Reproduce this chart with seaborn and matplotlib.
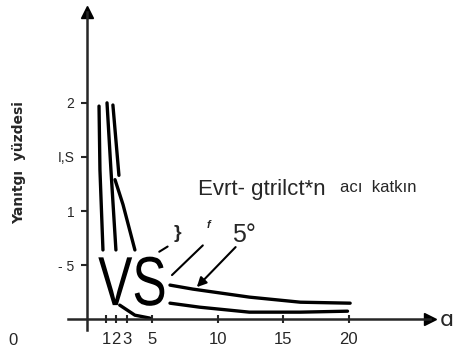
import matplotlib
matplotlib.use('Agg')
import matplotlib.pyplot as plt
import matplotlib.patheffects as pe
from matplotlib.transforms import Affine2D
import seaborn as sns

# steil inen dallar (sol taraf)
c1_x = [0.92, 0.99, 1.22]
c1_y = [1.97, 1.38, 0.64]
c2_x = [1.53, 1.83, 2.21]
c2_y = [2.00, 1.38, 0.64]
c3a_x = [1.98, 2.44]
c3a_y = [1.98, 1.33]
c3b_x = [2.14, 2.75, 3.66]
c3b_y = [1.29, 1.06, 0.64]
foot_x = [2.5, 3.66, 4.80]
foot_y = [0.13, 0.037, 0.01]

# kuyruklar (sag taraf)
upper_x = [6.34, 8.09, 12.4, 16.3, 20.1]
upper_y = [0.315, 0.278, 0.204, 0.157, 0.148]
lower_x = [6.34, 8.6, 12.4, 16.3, 19.9]
lower_y = [0.148, 0.111, 0.065, 0.065, 0.074]

x_ticks = [1.45, 2.2, 3.05, 5, 10, 15, 20]
x_labels = ['1', '2', '3', '5', '10', '15', '20']
y_ticks = [0.5, 1, 1.5, 2]
y_labels = ['- 5', '1', 'I,S', '2']


class Squeeze(pe.AbstractPathEffect):
    # yazıyı yatayda daralt (dar font yok)
    def __init__(self, sx):
        super().__init__()
        self.sx = sx

    def draw_path(self, renderer, gc, tpath, affine, rgbFace=None):
        renderer.draw_path(gc, tpath, Affine2D().scale(self.sx, 1) + affine, rgbFace)


sns.set_style('ticks')
plt.rcParams['font.family'] = ['Liberation Sans', 'DejaVu Sans']

fig = plt.figure(figsize=(4.57, 3.5), dpi=100)
ax = fig.add_axes([68 / 457, 1 - 330 / 350, 362 / 457, 318 / 350])

for xs, ys in [(c1_x, c1_y), (c2_x, c2_y), (c3a_x, c3a_y), (c3b_x, c3b_y),
               (foot_x, foot_y), (upper_x, upper_y), (lower_x, lower_y)]:
    sns.lineplot(x=xs, y=ys, ax=ax, color='black', lw=2.4, sort=False, estimator=None)

ax.set_xlim(-1.45, 26.2)
ax.set_ylim(-0.10, 2.84)

for s in ['top', 'right']:
    ax.spines[s].set_visible(False)
ax.spines['left'].set_position(('data', 0))
ax.spines['bottom'].set_position(('data', 0))
ax.spines['left'].set_linewidth(1.8)
ax.spines['bottom'].set_linewidth(1.8)
ax.plot(0, 1, '^k', ms=9, transform=ax.get_xaxis_transform(), clip_on=False)
ax.plot(1, 0, '>k', ms=9, transform=ax.get_yaxis_transform(), clip_on=False)

ax.set_xticks(x_ticks, x_labels)
ax.set_yticks(y_ticks, y_labels)
ax.tick_params(axis='x', direction='inout', length=6, width=1.5, pad=6, labelsize=12)
ax.tick_params(axis='y', direction='out', length=4, width=1.5, pad=5, labelsize=10)

ax.set_ylabel('Yanıtgı  yüzdesi', fontsize=10, fontweight='bold', family='DejaVu Sans')
ax.yaxis.set_label_coords(-0.116, 0.528)

ax.text(-5.65, -0.194, '0', fontsize=12, ha='center', va='center', clip_on=False)
ax.text(27.5, -0.01, 'ɑ', fontsize=16, ha='center', va='center', clip_on=False,
        family='DejaVu Sans')

ax.text(8.47, 1.148, 'Evrt- gtrilct*n', fontsize=16, va='baseline')
ax.text(19.3, 1.176, 'acı  katkın', fontsize=12, va='baseline')
ax.text(11.07, 0.713, '5°', fontsize=18, va='baseline')
ax.text(6.87, 0.79, '}', fontsize=14, fontweight='bold', ha='center', va='center')
ax.text(9.31, 0.87, 'f', fontsize=8, fontweight='bold', style='italic', ha='center', va='center')
ax.text(0.85, 0.13, 'VS', fontsize=50, va='baseline', color='black',
        path_effects=[Squeeze(0.74)])

ax.annotate('', xy=(5.34, 0.61), xytext=(6.34, 0.685),
            arrowprops=dict(arrowstyle='-', lw=1.5, color='black'))
ax.annotate('', xy=(6.34, 0.39), xytext=(9.0, 0.70),
            arrowprops=dict(arrowstyle='-', lw=1.5, color='black'))
ax.annotate('', xy=(8.24, 0.278), xytext=(11.5, 0.685),
            arrowprops=dict(arrowstyle='-|>', lw=1.5, color='black', mutation_scale=14))

fig.savefig('out.png', dpi=100)
